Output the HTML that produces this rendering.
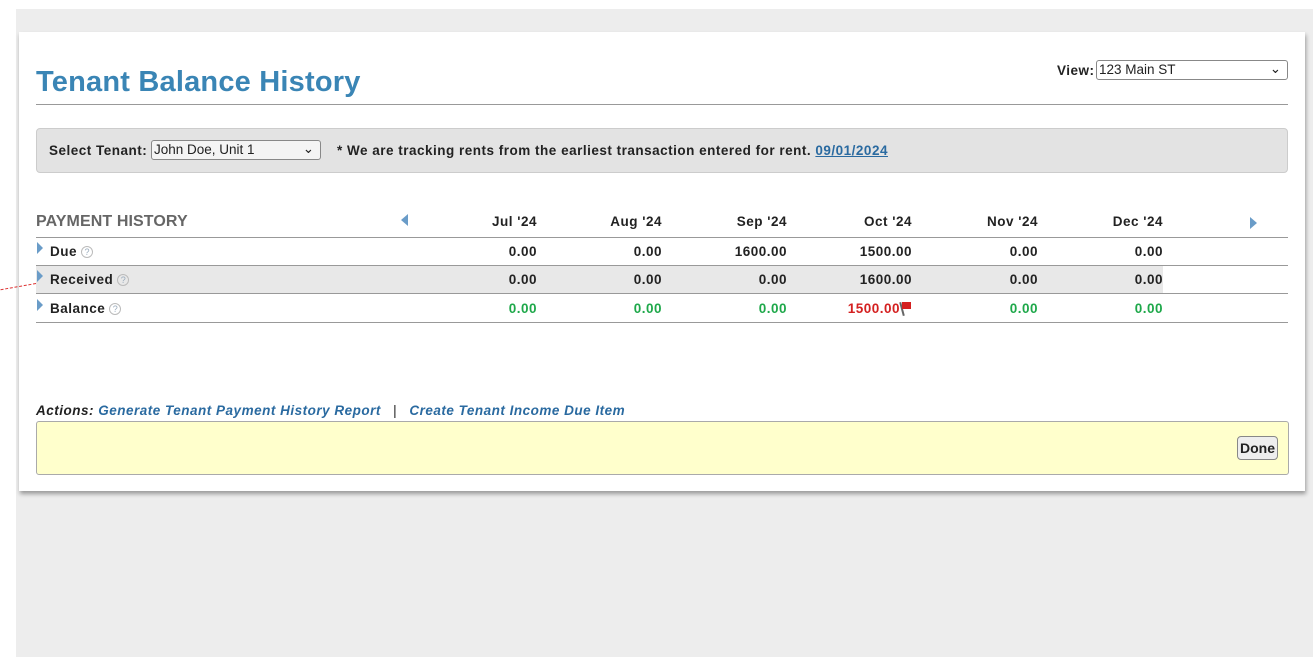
<!DOCTYPE html><html><head><style>
*{margin:0;padding:0;box-sizing:border-box}
body{width:1313px;height:657px;background:#fff;font-family:"Liberation Sans",Arial,sans-serif;position:relative;overflow:hidden;color:#222}
.a{position:absolute;white-space:nowrap}
.b{font-weight:bold;font-size:13.5px;letter-spacing:.5px}
.r{text-align:right;width:100px}
.ln{position:absolute;left:36px;width:1252px;height:1px;background:#999}
.q{display:inline-block;width:12px;height:12px;border:1px solid #bbb;border-radius:50%;font-size:9px;color:#9ab;text-align:center;line-height:10px;vertical-align:middle;margin-left:4px;font-weight:normal;letter-spacing:0}
.tri{position:absolute;width:0;height:0;border-top:6px solid transparent;border-bottom:6px solid transparent}
.g{color:#1ea84a}
</style></head><body>
<div class="a" style="left:16px;top:9px;width:1297px;height:648px;background:#ededed"></div>
<div class="a" style="left:19px;top:32px;width:1286px;height:459px;background:#fff;box-shadow:1px 3px 4px rgba(0,0,0,.35)"></div>
<div class="a" style="left:36px;top:66px;font-size:29px;font-weight:bold;color:#3a85b5;letter-spacing:.2px">Tenant Balance History</div>
<div class="ln" style="top:104px"></div>
<div class="a b" style="left:1057px;top:63px">View:</div>
<div class="a" style="left:1096px;top:60px;width:192px;height:20px;border:1px solid #888;border-radius:3px;font-size:13.5px;padding:1px 2px">123 Main ST<span style="position:absolute;right:6px;top:0">⌄</span></div>
<div class="a" style="left:36px;top:128px;width:1252px;height:45px;background:#e3e3e3;border:1px solid #ccc;border-radius:4px"></div>
<div class="a b" style="left:49px;top:143px">Select Tenant:</div>
<div class="a" style="left:151px;top:140px;width:170px;height:20px;border:1px solid #888;border-radius:3px;font-size:13.5px;padding:1px 2px;background:#f4f4f4">John Doe, Unit 1<span style="position:absolute;right:6px;top:0">⌄</span></div>
<div class="a b" style="left:337px;top:143px">* We are tracking rents from the earliest transaction entered for rent. <span style="color:#2a6aa0;text-decoration:underline">09/01/2024</span></div>
<div class="a" style="left:36px;top:213px;font-size:16px;font-weight:bold;color:#666;letter-spacing:.1px">PAYMENT HISTORY</div>
<div class="tri" style="left:401px;top:214px;border-right:7px solid #6a9cc8"></div>
<div class="tri" style="left:1250px;top:217px;border-left:7px solid #6a9cc8"></div>
<div class="a" style="left:36px;top:266px;width:1127px;height:27px;background:#e8e8e8"></div>
<div class="ln" style="top:237px"></div><div class="ln" style="top:265px"></div><div class="ln" style="top:293px"></div><div class="ln" style="top:322px"></div>
<div class="tri" style="left:37px;top:242px;border-left:6px solid #6a9cc8"></div>
<div class="tri" style="left:37px;top:270px;border-left:6px solid #6a9cc8"></div>
<div class="tri" style="left:37px;top:299px;border-left:6px solid #6a9cc8"></div>
<div class="a" style="left:0;top:283px;width:36px;height:1px;border-top:1px dashed #d33;transform:rotate(-10deg);transform-origin:right"></div>
<div class="a b" style="left:50px;top:244px">Due<span class="q">?</span></div>
<div class="a b" style="left:50px;top:272px">Received<span class="q">?</span></div>
<div class="a b" style="left:50px;top:301px">Balance<span class="q">?</span></div>
<div class="a b r" style="left:437px;top:214px">Jul '24</div>
<div class="a b r" style="left:562px;top:214px">Aug '24</div>
<div class="a b r" style="left:687px;top:214px">Sep '24</div>
<div class="a b r" style="left:812px;top:214px">Oct '24</div>
<div class="a b r" style="left:938px;top:214px">Nov '24</div>
<div class="a b r" style="left:1063px;top:214px">Dec '24</div>
<div class="a b r" style="left:437px;top:244px">0.00</div><div class="a b r" style="left:562px;top:244px">0.00</div><div class="a b r" style="left:687px;top:244px">1600.00</div><div class="a b r" style="left:812px;top:244px">1500.00</div><div class="a b r" style="left:938px;top:244px">0.00</div><div class="a b r" style="left:1063px;top:244px">0.00</div>
<div class="a b r" style="left:437px;top:272px">0.00</div><div class="a b r" style="left:562px;top:272px">0.00</div><div class="a b r" style="left:687px;top:272px">0.00</div><div class="a b r" style="left:812px;top:272px">1600.00</div><div class="a b r" style="left:938px;top:272px">0.00</div><div class="a b r" style="left:1063px;top:272px">0.00</div>
<div class="a b r g" style="left:437px;top:301px">0.00</div><div class="a b r g" style="left:562px;top:301px">0.00</div><div class="a b r g" style="left:687px;top:301px">0.00</div><div class="a b r" style="left:800px;top:301px;color:#d42020">1500.00</div><div class="a b r g" style="left:938px;top:301px">0.00</div><div class="a b r g" style="left:1063px;top:301px">0.00</div>
<div class="a" style="left:901px;top:302px;width:2px;height:14px;background:#666;transform:rotate(-15deg)"></div>
<div class="a" style="left:902px;top:302px;width:9px;height:7px;background:#d42020"></div>
<div class="a b" style="left:36px;top:403px;font-style:italic">Actions: <span style="color:#2a6aa0">Generate Tenant Payment History Report</span> <span style="font-weight:normal;font-style:normal;margin:0 8px">|</span> <span style="color:#2a6aa0">Create Tenant Income Due Item</span></div>
<div class="a" style="left:36px;top:421px;width:1253px;height:54px;background:#ffffcc;border:1px solid #aaa;border-radius:3px"></div>
<div class="a b" style="left:1237px;top:436px;width:41px;height:24px;border:1px solid #888;border-radius:4px;background:#eee;font-size:14px;letter-spacing:0;text-align:center;line-height:22px">Done</div>
</body></html>
